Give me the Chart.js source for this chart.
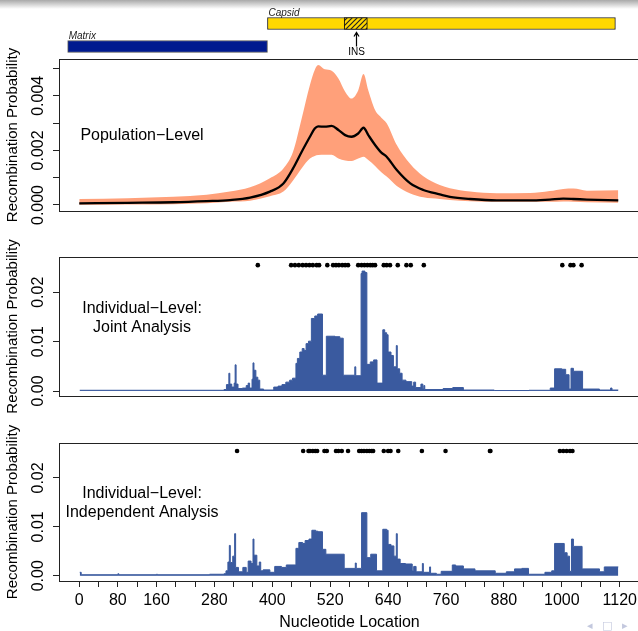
<!DOCTYPE html>
<html>
<head>
<meta charset="utf-8">
<script src="https://cdn.jsdelivr.net/npm/chart.js@4.4.0/dist/chart.umd.min.js"></script>
<style>
  html, body { margin: 0; padding: 0; background: #fff; }
  body { width: 638px; height: 631px; overflow: hidden; position: relative; }
  canvas { position: absolute; left: 0; }
  #shade { position: absolute; left: 0; top: 0; width: 638px; height: 9px; background: linear-gradient(#a9a9a9, #ffffff); }
  #nav { position: absolute; left: 587px; top: 619px; font: 11px 'DejaVu Sans'; color: #c3c8de; letter-spacing: 3px; }
</style>
</head>
<body>
<div id="shade"></div>
<canvas id="genes" width="660" height="60" style="top:0px"></canvas>
<canvas id="pop" width="660" height="200" style="top:40px"></canvas>
<canvas id="joint" width="660" height="190" style="top:230px"></canvas>
<canvas id="indep" width="660" height="211" style="top:420px"></canvas>
<div id="nav">◂ □ ▸</div>
<script>
const FONT = "'Liberation Sans', Arial, sans-serif";
Chart.defaults.font.family = FONT;
Chart.defaults.color = '#000';
Chart.defaults.animation = false;

// gene map above the panels
const geneNames = ['Capsid', 'Matrix'];
const geneSpans = [[390, 1111], [-24, 390]];
const geneColours = ['#ffd800', '#001a8f'];
const insSpan = [549, 597];
const insPos = 573;

// population level: posterior mean and band
const popX = [0, 100, 195, 264, 312, 354, 395, 423, 443, 461, 478, 488, 495, 509, 523, 537, 551, 564, 578, 589,
  599, 613, 626, 637, 658, 686, 713, 747, 768, 810, 865, 934, 975, 1003, 1024, 1052, 1117];
const popMean = [0.00006, 0.00008, 0.0001, 0.00014, 0.00018, 0.00027, 0.00049, 0.00079, 0.00134, 0.00195,
  0.0025, 0.0028, 0.00288, 0.00287, 0.0029, 0.00275, 0.00256, 0.0025, 0.00262, 0.00283,
  0.00256, 0.0022, 0.00192, 0.00177, 0.00128, 0.00079, 0.00055, 0.00039, 0.0003, 0.00022,
  0.00017, 0.00017, 0.0002, 0.00023, 0.00022, 0.0002, 0.00017];
const popUpper = [0.00022, 0.00025, 0.0003, 0.00038, 0.00049, 0.00065, 0.00098, 0.00134, 0.00195, 0.00318,
  0.0044, 0.00495, 0.00513, 0.00497, 0.00492, 0.00464, 0.00415, 0.0039, 0.0042, 0.0048,
  0.0042, 0.00348, 0.0032, 0.003, 0.0022, 0.0015, 0.00105, 0.00073, 0.00061, 0.00049,
  0.00043, 0.00044, 0.00051, 0.00059, 0.0006, 0.00052, 0.00054];
const popLower = [0.00001, 0.00002, 0.00003, 0.00006, 0.00012, 0.00016, 0.00032, 0.00049, 0.0009, 0.00135,
  0.0017, 0.0018, 0.00183, 0.00184, 0.00184, 0.0017, 0.00163, 0.00161, 0.0017, 0.00177,
  0.00165, 0.00143, 0.0012, 0.00104, 0.0007, 0.00042, 0.00028, 0.00022, 0.00018, 0.00014,
  0.00012, 0.00012, 0.00012, 0.00013, 0.00012, 0.0001, 0.00008];

// individual level, joint analysis (step starts and heights)
const jointX = [1, 300, 305, 310, 312, 316, 321, 323, 325, 329, 338, 346, 350, 353, 358, 360, 362, 366, 370, 374,
  382, 403, 412, 420, 428, 436, 442, 449, 452, 457, 462, 466, 470, 475, 481, 488, 494, 504, 512, 530,
  540, 547, 571, 573, 584, 586, 592, 596, 603, 610, 617, 629, 633, 637, 640, 646, 651, 657, 659, 664,
  669, 677, 689, 693, 697, 708, 712, 714, 716, 754, 774, 796, 860, 932, 976, 985, 1000, 1008, 1015, 1019,
  1024, 1043, 1078, 1101, 1104, 1117];
const jointY = [0.00015, 0.0003, 0.0013, 0.0036, 0.0014, 0.0008, 0.0016, 0.0053, 0.0014, 0.0005,
  0.0006, 0.0011, 0.0016, 0.0006, 0.0024, 0.0057, 0.0042, 0.0028, 0.0022, 0.0004,
  0.0002, 0.0008, 0.001, 0.0013, 0.0018, 0.0022, 0.0026, 0.0056, 0.0066, 0.0079,
  0.0086, 0.0082, 0.0096, 0.0101, 0.0147, 0.0152, 0.0156, 0.0032, 0.0111, 0.011,
  0.0107, 0.0032, 0.0049, 0.0031, 0.0238, 0.0243, 0.024, 0.0054, 0.0059, 0.0063,
  0.0016, 0.0124, 0.0118, 0.0114, 0.0079, 0.0072, 0.0049, 0.0092, 0.0045, 0.0036,
  0.0022, 0.0019, 0.001, 0.0018, 0.0007, 0.0014, 0.0004, 0.0011, 0.0003, 0.0005,
  0.0007, 0.0002, 0.0001, 0.00015, 0.0006, 0.0045, 0.0044, 0.0033, 0.0004, 0.0046,
  0.004, 0.0004, 0.0002, 0.0006, 0.0002, 0.0002];
const jointDotsX = [370, 439, 447, 455, 463, 470, 477, 484, 492, 497, 514, 526, 532, 538, 545, 551, 557,
  578, 585, 591, 597, 603, 608, 613, 631, 637, 644, 660, 678, 687, 714, 1001, 1018, 1024, 1041];

// individual level, independent analysis
const indepX = [1, 4, 80, 82, 160, 162, 270, 300, 304, 308, 311, 313, 318, 322, 324, 330, 339, 346, 350, 356,
  360, 362, 368, 373, 376, 381, 395, 405, 419, 429, 449, 455, 463, 468, 476, 482, 490, 495, 504, 511,
  549, 572, 574, 585, 596, 604, 616, 629, 637, 640, 646, 652, 657, 659, 665, 676, 690, 693, 698, 711,
  713, 726, 728, 740, 750, 773, 780, 796, 820, 862, 885, 902, 917, 931, 965, 979, 985, 1005, 1011, 1016,
  1020, 1024, 1042, 1078, 1088, 1117];
const indepY = [0.0007, 0.0002, 0.0004, 0.0002, 0.0003, 0.0002, 0.0003, 0.0004, 0.001, 0.0028,
  0.0062, 0.0027, 0.004, 0.0086, 0.0017, 0.0008, 0.0017, 0.0007, 0.003, 0.0025,
  0.0075, 0.0042, 0.002, 0.0028, 0.001, 0.0012, 0.0007, 0.0019, 0.0017, 0.0022,
  0.0056, 0.0068, 0.0066, 0.0072, 0.0075, 0.0093, 0.0091, 0.009, 0.0054, 0.0044,
  0.0015, 0.0026, 0.0015, 0.0129, 0.0037, 0.0044, 0.001, 0.0095, 0.0093, 0.0064,
  0.0061, 0.004, 0.0086, 0.0034, 0.0025, 0.0024, 0.001, 0.0019, 0.0008, 0.0025,
  0.0007, 0.0018, 0.0005, 0.0003, 0.0009, 0.0022, 0.002, 0.0014, 0.001, 0.0005,
  0.0008, 0.0014, 0.0015, 0.0003, 0.0007, 0.001, 0.0066, 0.0047, 0.004, 0.0009,
  0.0075, 0.006, 0.0014, 0.0008, 0.0018, 0.0018];
const indepDotsX = [327, 464, 475, 478, 484, 489, 493, 508, 513, 532, 537, 544, 557, 580, 585, 590, 596,
  601, 606, 609, 631, 640, 645, 661, 710, 759, 851, 852, 996, 1003, 1010, 1017, 1022];
const dotLevel = 0.0255;

// axes
const xTicks = [0, 40, 80, 120, 160, 200, 240, 280, 320, 360, 400, 440, 480, 520, 560, 600, 640, 680,
  720, 760, 800, 840, 880, 920, 960, 1000, 1040, 1080, 1120];
const xTickShown = [0, 80, 160, 280, 400, 520, 640, 760, 880, 1000, 1120];
const popTicks = [0, 0.001, 0.002, 0.003, 0.004, 0.005];
const popTickLabels = ['0.000', '', '0.002', '', '0.004', ''];
const indTicks = [0, 0.01, 0.02];
const indTickLabels = ['0.00', '0.01', '0.02'];

const BAR = '#3a5a9f';
const pts = (xs, ys) => xs.map((x, i) => ({x, y: ys[i]}));

// box, rotated y labels and panel caption
const panelPlugin = {
  id: 'panel',
  afterDraw(chart, args, opts) {
    if (!opts.caption) return;
    const ctx = chart.ctx, a = chart.chartArea, x = chart.scales.x, y = chart.scales.y;
    ctx.save();
    ctx.strokeStyle = '#222';
    ctx.lineWidth = 1;
    ctx.strokeRect(Math.round(a.left) + 0.5, Math.round(a.top) + 0.5,
      Math.round(a.right - a.left), Math.round(a.bottom - a.top));
    ctx.fillStyle = '#000';
    ctx.font = '16px ' + FONT;
    ctx.textAlign = 'center';
    ctx.textBaseline = 'middle';
    opts.ticks.forEach((v, i) => {
      if (!opts.labels[i]) return;
      ctx.save();
      ctx.translate(a.left - 20.5, y.getPixelForValue(v));
      ctx.rotate(-Math.PI / 2);
      ctx.fillText(opts.labels[i], 0, 0);
      ctx.restore();
    });
    const cx = x.getPixelForValue(opts.captionX), cy = y.getPixelForValue(opts.captionY);
    opts.caption.forEach((t, i) => ctx.fillText(t, cx, cy + i * 18.5));
    ctx.restore();
  }
};
Chart.register(panelPlugin);

function xScale(show) {
  return {
    type: 'linear', min: -42, max: 1162, display: show,
    afterBuildTicks: s => { s.ticks = xTicks.map(v => ({value: v})); },
    afterFit: s => { s.height = show ? 50 : 0; },
    grid: { drawOnChartArea: false, tickLength: 6, color: '#222' },
    border: { display: false },
    ticks: { autoSkip: false, maxRotation: 0, padding: 4, font: { size: 16 },
      callback: v => xTickShown.includes(v) ? String(v) : '' },
    title: { display: show, text: 'Nucleotide Location', font: { size: 16, lineHeight: 1 }, padding: { top: 0, bottom: 0 } }
  };
}

function yScale(min, max, ticks) {
  return {
    type: 'linear', min, max,
    afterBuildTicks: s => { s.ticks = ticks.map(v => ({value: v})); },
    afterFit: s => { s.width = 59; },
    grid: { drawOnChartArea: false, tickLength: 6, color: '#222' },
    border: { display: false },
    ticks: { display: false },
    title: { display: true, text: 'Recombination Probability', font: { size: 15 }, padding: { top: 4, bottom: 0 } }
  };
}

function baseOptions(pad, showX, ymin, ymax, ticks, labels, caption, captionY) {
  return {
    responsive: false,
    layout: { padding: pad },
    scales: { x: xScale(showX), y: yScale(ymin, ymax, ticks) },
    plugins: {
      legend: { display: false },
      tooltip: { enabled: false },
      panel: { ticks, labels, caption, captionX: 130, captionY }
    }
  };
}

// gene map
const gctx = document.getElementById('genes').getContext('2d');
const pc = document.createElement('canvas');
pc.width = 5; pc.height = 5;
const p = pc.getContext('2d');
p.fillStyle = geneColours[0];
p.fillRect(0, 0, 5, 5);
p.strokeStyle = '#222';
p.lineWidth = 1.2;
p.beginPath();
p.moveTo(0, 5); p.lineTo(5, 0);
p.moveTo(-1, 1); p.lineTo(1, -1);
p.moveTo(4, 6); p.lineTo(6, 4);
p.stroke();
const hatch = gctx.createPattern(pc, 'repeat');

new Chart(gctx, {
  type: 'bar',
  data: {
    labels: geneNames,
    datasets: [
      { data: geneSpans, backgroundColor: geneColours, borderColor: ['#222', '#555'], borderWidth: 1,
        borderSkipped: false, barThickness: 12, grouped: false, order: 1 },
      { data: [insSpan, null], backgroundColor: hatch, borderColor: '#111', borderWidth: 1,
        borderSkipped: false, barThickness: 12, grouped: false, order: 0 }
    ]
  },
  options: {
    indexAxis: 'y',
    responsive: false,
    layout: { padding: { left: 59, right: 20, top: 12, bottom: 2 } },
    scales: {
      x: { type: 'linear', min: -42, max: 1162, display: false },
      y: { display: false }
    },
    plugins: { legend: { display: false }, tooltip: { enabled: false } }
  },
  plugins: [{
    id: 'geneText',
    afterDatasetsDraw(chart) {
      const ctx = chart.ctx;
      const bars = chart.getDatasetMeta(0).data;
      ctx.save();
      ctx.fillStyle = '#222';
      ctx.font = 'italic 10px ' + FONT;
      ctx.textBaseline = 'alphabetic';
      bars.forEach((b, i) => {
        ctx.fillText(geneNames[i], Math.min(b.x, b.base) + 1, b.y - b.height / 2 - 2);
      });
      const cap = bars[0];
      const ax = Math.round(chart.scales.x.getPixelForValue(insPos)) + 0.5;
      const top = cap.y + cap.height / 2 + 3;
      ctx.strokeStyle = '#000';
      ctx.lineWidth = 1.2;
      ctx.beginPath();
      ctx.moveTo(ax, top + 14); ctx.lineTo(ax, top);
      ctx.moveTo(ax - 2.5, top + 4); ctx.lineTo(ax, top); ctx.lineTo(ax + 2.5, top + 4);
      ctx.stroke();
      ctx.fillStyle = '#000';
      ctx.font = '10px ' + FONT;
      ctx.textAlign = 'center';
      ctx.textBaseline = 'middle';
      ctx.fillText('INS', ax, top + 20);
      ctx.restore();
    }
  }]
});

// population level
new Chart(document.getElementById('pop'), {
  type: 'line',
  data: {
    datasets: [
      { data: pts(popX, popMean), borderColor: '#000', borderWidth: 2.3, pointRadius: 0, fill: false,
        cubicInterpolationMode: 'monotone', order: 0 },
      { data: pts(popX, popUpper), borderWidth: 0, borderColor: 'rgba(0,0,0,0)', backgroundColor: '#ffa07a',
        pointRadius: 0, fill: '+1', cubicInterpolationMode: 'monotone', order: 1 },
      { data: pts(popX, popLower), borderWidth: 0, borderColor: 'rgba(0,0,0,0)', pointRadius: 0, fill: false,
        cubicInterpolationMode: 'monotone', order: 2 }
    ]
  },
  options: baseOptions({ left: 0, right: 20, top: 19, bottom: 29 }, false, -0.00022, 0.00535,
    popTicks, popTickLabels, ['Population\u2212Level'], 0.00253)
});

function individual(id, xs, ys, dots, pad, showX, ymin, caption, captionY) {
  return new Chart(document.getElementById(id), {
    type: 'line',
    data: {
      datasets: [
        { data: dots.map(x => ({x, y: dotLevel})), showLine: false, pointRadius: 2.3,
          pointBackgroundColor: '#000', pointBorderWidth: 0, order: 0 },
        { data: pts(xs, ys), stepped: true, fill: 'origin', backgroundColor: BAR, borderColor: BAR,
          borderWidth: 1, pointRadius: 0, order: 1 }
      ]
    },
    options: baseOptions(pad, showX, ymin, 0.02715, indTicks, indTickLabels, caption, captionY)
  });
}

individual('joint', jointX, jointY, jointDotsX, { left: 0, right: 20, top: 27, bottom: 24 }, false, -0.00101,
  ['Individual\u2212Level:', 'Joint Analysis'], 0.0166);
individual('indep', indepX, indepY, indepDotsX, { left: 0, right: 20, top: 23, bottom: 0 }, true, -0.00108,
  ['Individual\u2212Level:', 'Independent Analysis'], 0.0168);
</script>
</body>
</html>
